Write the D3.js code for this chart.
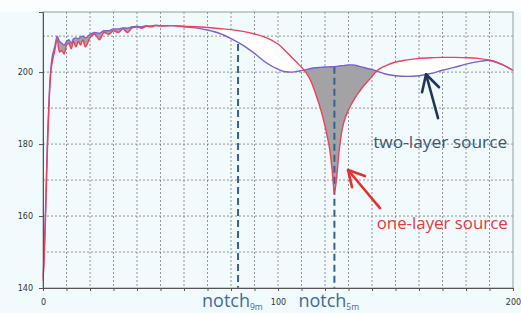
<!DOCTYPE html>
<html>
<head>
<meta charset="utf-8">
<script src="https://cdn.jsdelivr.net/npm/d3@7"></script>
<style>
  body { margin: 0; background: #f1fbfe; }
  svg { display: block; }
</style>
</head>
<body>
<svg id="chart"></svg>
<script>
// frequency samples (x) shared by both curves
const freqs = [0, 0.5, 1, 1.5, 2, 2.5, 3, 3.5, 4, 5, 6, 7, 8, 9, 10, 11, 12, 13, 14, 15, 16, 17, 18,
  20, 22, 24, 26, 28, 30, 32, 34, 36, 38, 40, 42, 44, 46, 48, 50, 55, 60, 65, 70, 75, 80, 85, 90, 95,
  100, 103, 106, 109, 112, 114, 116, 118, 120, 121, 122, 123, 124, 125, 126, 127, 128, 130, 132, 134,
  136, 138, 140, 142, 145, 150, 155, 160, 165, 170, 175, 180, 185, 190, 195, 200];

const oneLayer = [142, 148, 158, 170, 181, 190, 197, 201, 203, 206, 209, 205.5, 206, 205, 207.5, 208, 206.5, 208.5, 207, 208.5, 207.5, 209, 207,
  209.5, 210.5, 209, 211, 210.5, 211.5, 211, 212, 211, 212.3, 212.5, 212.2, 212.7, 212.6, 212.9, 212.8, 212.9, 212.7, 212.6, 212.4, 212.1, 211.8, 211.3, 210.6, 209.6,
  207.8, 206, 204, 202, 199.8, 197.5, 194, 190, 185, 182, 178.5, 173, 166.5, 171, 178, 183, 186, 189.5, 192, 194,
  195.8, 197.3, 198.8, 200.3, 201.5, 202.8, 203.4, 203.8, 204, 204.1, 204.1, 204, 203.8, 203.3, 202.2, 200.5];

const twoLayer = [143, 150, 160, 172, 183, 191, 198, 202, 204.5, 207, 210, 208.5, 208, 207.5, 208.5, 209, 208, 209.3, 209.5, 209.3, 209.8, 210, 209.5,
  210.5, 211, 210.8, 211.5, 211.5, 212, 212, 212.3, 212.2, 212.6, 212.7, 212.6, 212.9, 212.8, 213, 212.9, 212.9, 212.6, 212.3, 211.7, 210.8, 209.3, 207.5, 205.2, 202.6,
  200.8, 200.1, 200, 200.3, 200.7, 201, 201.2, 201.3, 201.4, 201.4, 201.5, 201.5, 201.5, 201.6, 201.7, 201.8, 201.8, 202, 202, 201.7,
  201.4, 201, 200.7, 200.3, 199.6, 199, 198.8, 199, 199.6, 200.5, 201.3, 202.2, 202.9, 203.3, 202.2, 200.5];

const xTicks = [0, 100, 200];
const yTicks = [140, 160, 180, 200];
const notches = [
  { x: 83, top: 207.8, label: "notch", sub: "9m" },
  { x: 124, top: 201.5, label: "notch", sub: "5m" }
];

const width = 521, height = 313;
const margin = { top: 12, right: 8, bottom: 25, left: 43 };

const svg = d3.select("#chart").attr("width", width).attr("height", height);

const x = d3.scaleLinear().domain([0, 200]).range([margin.left, width - margin.right]);
const y = d3.scaleLinear().domain([140, 216.7]).range([height - margin.bottom, margin.top]);

// top strip is lighter
svg.append("rect").attr("x", 0).attr("y", 0).attr("width", width).attr("height", margin.top)
  .attr("fill", "#fafeff");

// grid
const grid = svg.append("g").attr("stroke", "#7a7a7a").attr("stroke-width", 0.8).attr("stroke-dasharray", "2,2");
grid.selectAll(".gx").data(d3.range(10, 200, 10)).join("line")
  .attr("x1", d => x(d)).attr("x2", d => x(d))
  .attr("y1", y.range()[1]).attr("y2", y.range()[0]);
grid.selectAll(".gy").data(d3.range(150, 216, 10)).join("line")
  .attr("x1", x.range()[0]).attr("x2", x.range()[1])
  .attr("y1", d => y(d)).attr("y2", d => y(d));

// fills between curves via clip paths
const pts = freqs.map((f, i) => ({ f, a: oneLayer[i], b: twoLayer[i] }));
const curve = d3.curveMonotoneX;
const defs = svg.append("defs");
defs.append("clipPath").attr("id", "belowTwo").append("path")
  .attr("d", d3.area().curve(curve).x(d => x(d.f)).y0(y(140)).y1(d => y(d.b))(pts));
defs.append("clipPath").attr("id", "belowOne").append("path")
  .attr("d", d3.area().curve(curve).x(d => x(d.f)).y0(y(140)).y1(d => y(d.a))(pts));

svg.append("path")
  .attr("d", d3.area().curve(curve).x(d => x(d.f)).y0(y(216.7)).y1(d => y(d.a))(pts))
  .attr("clip-path", "url(#belowTwo)").attr("fill", "#a3a3a6");
svg.append("path")
  .attr("d", d3.area().curve(curve).x(d => x(d.f)).y0(y(216.7)).y1(d => y(d.b))(pts))
  .attr("clip-path", "url(#belowOne)").attr("fill", "#ffffff");

// notch dashed lines
svg.selectAll(".notch").data(notches).join("line")
  .attr("x1", d => x(d.x)).attr("x2", d => x(d.x))
  .attr("y1", d => y(d.top)).attr("y2", y(140))
  .attr("stroke", "#35618f").attr("stroke-width", 2).attr("stroke-dasharray", "7,4");

// curves
const line = key => d3.line().curve(curve).x(d => x(d.f)).y(d => y(d[key]));
svg.append("path").attr("d", line("b")(pts)).attr("fill", "none")
  .attr("stroke", "#7a5fd6").attr("stroke-width", 1.4);
svg.append("path").attr("d", line("a")(pts)).attr("fill", "none")
  .attr("stroke", "#f0405a").attr("stroke-width", 1.4);

// frame
svg.append("rect").attr("x", x.range()[0]).attr("y", y.range()[1])
  .attr("width", x.range()[1] - x.range()[0]).attr("height", y.range()[0] - y.range()[1])
  .attr("fill", "none").attr("stroke", "#9a9a9a").attr("stroke-width", 1);

// axes
const xAxis = svg.append("g").attr("transform", `translate(0,${y(140)})`)
  .call(d3.axisBottom(x).tickValues(d3.range(0, 201, 10)).tickSize(3).tickFormat(d => xTicks.includes(d) ? d : ""));
const yAxis = svg.append("g").attr("transform", `translate(${x(0)},0)`)
  .call(d3.axisLeft(y).tickValues(yTicks).tickSize(4).tickPadding(6));
[xAxis, yAxis].forEach(g => {
  g.selectAll("path, line").attr("stroke", "#555");
  g.selectAll("text").attr("font-family", "DejaVu Sans").attr("font-size", 8).attr("fill", "#333");
});
xAxis.selectAll("text").attr("dy", "1.4em");

// notch labels
const nl = svg.selectAll(".nl").data(notches).join("text")
  .attr("x", d => x(d.x) - 36).attr("y", 307)
  .attr("font-family", "Open Sans").attr("font-size", 18).attr("fill", "#3f6b9c");
nl.append("tspan").text(d => d.label);
nl.append("tspan").attr("font-size", 8.5).attr("dy", 3).text(d => d.sub);

// annotations
const arrow = (pts, color) => {
  svg.append("path")
    .attr("d", d3.line().x(p => x(p[0])).y(p => y(p[1]))(pts))
    .attr("fill", "none").attr("stroke", color).attr("stroke-width", 2.6)
    .attr("stroke-linecap", "round").attr("stroke-linejoin", "round");
};
arrow([[168.1, 187.2], [163, 199.4]], "#1f3856");
arrow([[161.3, 194.4], [163, 199.4], [168.5, 195.8]], "#1f3856");
arrow([[143.4, 162.2], [129.8, 172.8]], "#e8302f");
arrow([[137, 171.1], [129.8, 172.8], [131.5, 168]], "#e8302f");

svg.append("text").attr("x", x(140.5)).attr("y", y(178.8))
  .attr("font-family", "Open Sans").attr("font-size", 16).attr("fill", "#3a5877")
  .attr("textLength", 134).attr("lengthAdjust", "spacingAndGlyphs")
  .text("two-layer source");
svg.append("text").attr("x", x(142)).attr("y", y(156.5))
  .attr("font-family", "Open Sans").attr("font-size", 16).attr("fill", "#e8393a")
  .attr("textLength", 131).attr("lengthAdjust", "spacingAndGlyphs")
  .text("one-layer source");
</script>
</body>
</html>
